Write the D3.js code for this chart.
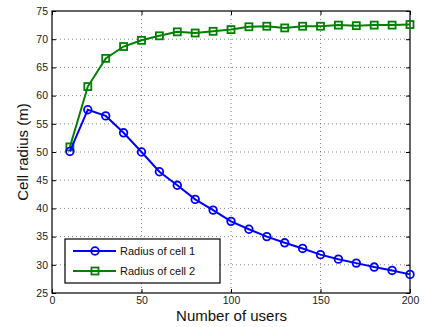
<!DOCTYPE html>
<html>
<head>
<meta charset="utf-8">
<script src="https://cdn.jsdelivr.net/npm/d3@7"></script>
<style>
  body { margin: 0; background: #fff; }
  text { font-family: "Liberation Sans", Arial, sans-serif; }
</style>
</head>
<body>
<div class="canvas"></div>
<script>
// data
const users = [10, 20, 30, 40, 50, 60, 70, 80, 90, 100, 110, 120, 130, 140, 150, 160, 170, 180, 190, 200];
const cell1 = [50.1, 57.5, 56.4, 53.4, 50.0, 46.5, 44.1, 41.6, 39.7, 37.7, 36.3, 35.0, 33.9, 32.9, 31.8, 31.0, 30.3, 29.6, 29.0, 28.3];
const cell2 = [50.9, 61.6, 66.6, 68.7, 69.8, 70.6, 71.3, 71.1, 71.4, 71.7, 72.2, 72.3, 72.0, 72.3, 72.3, 72.5, 72.4, 72.5, 72.5, 72.6];
const xTicks = [0, 50, 100, 150, 200];
const yTicks = [25, 30, 35, 40, 45, 50, 55, 60, 65, 70, 75];
const seriesNames = ['Radius of cell 1', 'Radius of cell 2'];

const width = 424, height = 327;
const margin = { top: 11, right: 14, bottom: 34, left: 52 };
const w = width - margin.left - margin.right;
const h = height - margin.top - margin.bottom;

const svg = d3.select('.canvas').append('svg')
    .attr('width', width)
    .attr('height', height);

const g = svg.append('g')
    .attr('transform', `translate(${margin.left}, ${margin.top})`);

const x = d3.scaleLinear().domain([0, 200]).range([0, w]);
const y = d3.scaleLinear().domain([25, 75]).range([h, 0]);

// dotted grid
g.append('g').selectAll('line').data(xTicks.slice(1, -1)).join('line')
    .attr('x1', d => x(d)).attr('x2', d => x(d))
    .attr('y1', 0).attr('y2', h)
    .attr('stroke', '#555').attr('stroke-width', 0.7)
    .attr('stroke-dasharray', '1,3');
g.append('g').selectAll('line').data(yTicks.slice(1, -1)).join('line')
    .attr('x1', 0).attr('x2', w)
    .attr('y1', d => y(d)).attr('y2', d => y(d))
    .attr('stroke', '#555').attr('stroke-width', 0.7)
    .attr('stroke-dasharray', '1,3');

// axes (ticks pointing inward)
const styleAxis = sel => {
    sel.select('.domain').remove();
    sel.selectAll('line').attr('stroke', '#000');
    sel.selectAll('text').attr('font-size', 10.5).attr('fill', '#222');
};
g.append('g').attr('transform', `translate(0, ${h})`)
    .call(d3.axisBottom(x).tickValues(xTicks).tickSizeInner(-4).tickPadding(4))
    .call(styleAxis);
g.append('g')
    .call(d3.axisLeft(y).tickValues(yTicks).tickSizeInner(-4).tickPadding(4))
    .call(styleAxis);
g.append('g')
    .call(d3.axisTop(x).tickValues(xTicks).tickSizeInner(-4).tickFormat(''))
    .call(styleAxis);
g.append('g').attr('transform', `translate(${w}, 0)`)
    .call(d3.axisRight(y).tickValues(yTicks).tickSizeInner(-4).tickFormat(''))
    .call(styleAxis);

g.append('rect')
    .attr('width', w).attr('height', h)
    .attr('fill', 'none').attr('stroke', '#000').attr('stroke-width', 1.2);

// lines
const line = d3.line().x(d => x(d[0])).y(d => y(d[1]));
const s1 = users.map((u, i) => [u, cell1[i]]);
const s2 = users.map((u, i) => [u, cell2[i]]);

g.append('path').datum(s2).attr('d', line)
    .attr('fill', 'none').attr('stroke', '#008000').attr('stroke-width', 2);
g.append('g').selectAll('rect').data(s2).join('rect')
    .attr('x', d => x(d[0]) - 3.5).attr('y', d => y(d[1]) - 3.5)
    .attr('width', 7).attr('height', 7)
    .attr('fill', 'none').attr('stroke', '#008000').attr('stroke-width', 1.8);

g.append('path').datum(s1).attr('d', line)
    .attr('fill', 'none').attr('stroke', '#0000ff').attr('stroke-width', 2);
g.append('g').selectAll('circle').data(s1).join('circle')
    .attr('cx', d => x(d[0])).attr('cy', d => y(d[1]))
    .attr('r', 3.8)
    .attr('fill', 'none').attr('stroke', '#0000ff').attr('stroke-width', 1.8);

// axis labels
svg.append('text')
    .attr('x', margin.left + w / 2 + 0.5).attr('y', 320.5)
    .attr('text-anchor', 'middle').attr('font-size', 15).attr('fill', '#111')
    .text('Number of users');
svg.append('text')
    .attr('transform', `translate(28, ${margin.top + h / 2}) rotate(-90)`)
    .attr('text-anchor', 'middle').attr('font-size', 15).attr('fill', '#111')
    .text('Cell radius (m)');

// legend
const legend = svg.append('g').attr('transform', 'translate(65, 239)');
legend.append('rect')
    .attr('width', 155).attr('height', 44)
    .attr('fill', '#fff').attr('stroke', '#000').attr('stroke-width', 1.2);
const colors = ['#0000ff', '#008000'];
seriesNames.forEach((name, i) => {
    const ly = 12 + i * 20;
    legend.append('line')
        .attr('x1', 8).attr('x2', 51).attr('y1', ly).attr('y2', ly)
        .attr('stroke', colors[i]).attr('stroke-width', 2);
    if (i === 0) {
        legend.append('circle').attr('cx', 30).attr('cy', ly).attr('r', 3.8)
            .attr('fill', 'none').attr('stroke', colors[i]).attr('stroke-width', 1.8);
    } else {
        legend.append('rect').attr('x', 26.5).attr('y', ly - 3.5).attr('width', 7).attr('height', 7)
            .attr('fill', 'none').attr('stroke', colors[i]).attr('stroke-width', 1.8);
    }
    legend.append('text')
        .attr('x', 55).attr('y', ly + 4)
        .attr('font-size', 11).attr('fill', '#111')
        .text(name);
});
</script>
</body>
</html>
